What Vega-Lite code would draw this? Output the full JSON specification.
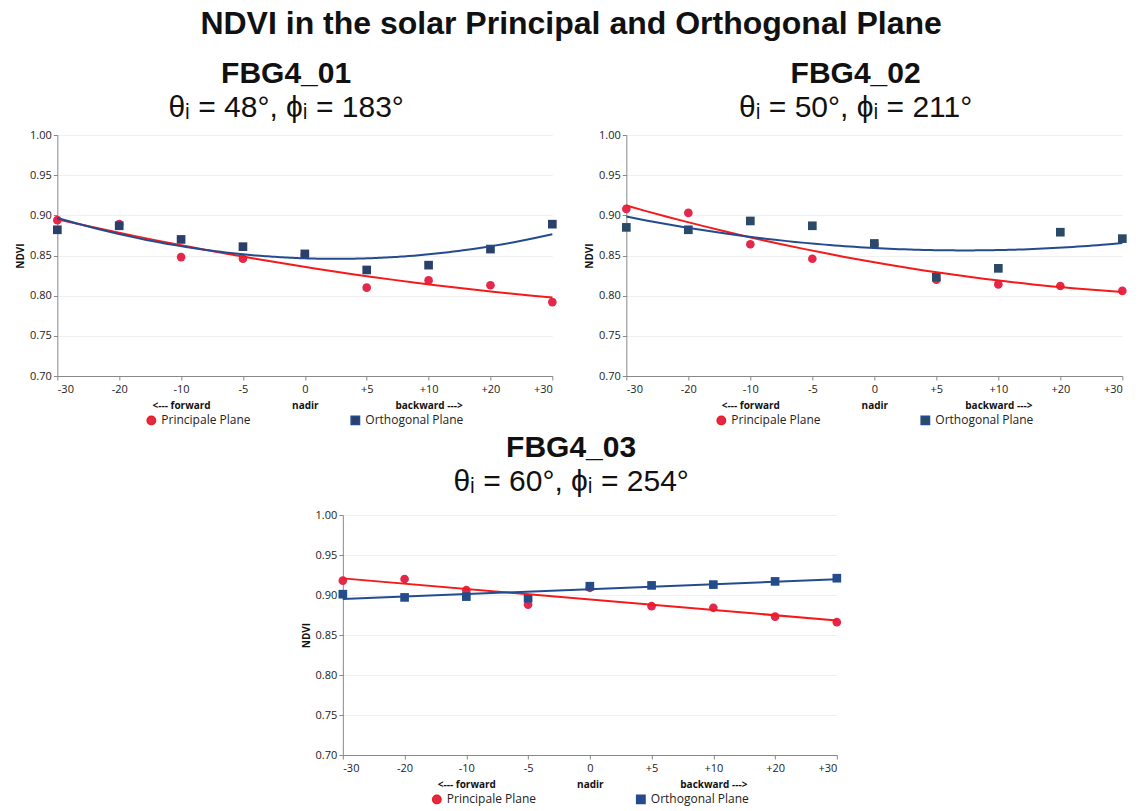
{
  "$schema": "https://vega.github.io/schema/vega-lite/v6.json",
  "background": "white",
  "padding": {"left": 15, "top": 8, "right": 5, "bottom": 0},
  "title": {"text": "NDVI in the solar Principal and Orthogonal Plane", "font": "Liberation Sans", "fontSize": 32, "fontWeight": "bold", "color": "#111", "anchor": "middle", "offset": 18},
  "config": {
    "view": {"stroke": null},
    "axis": {"labelFont": "Open Sans", "labelFontSize": 11, "labelColor": "#222", "domainColor": "#888", "tickColor": "#888", "titleFont": "Open Sans", "titleFontSize": 10, "titleFontWeight": "bold", "titleColor": "#111", "labelOverlap": false},
    "legend": {"labelFont": "Open Sans", "labelFontSize": 12, "labelColor": "#222", "layout": {"bottom": {"anchor": "middle", "bounds": "full"}}}
  },
  "datasets": {
    "p1": [
      {"idx": 0, "angle": "-30", "plane": "Principale Plane", "ndvi": 0.894},
      {"idx": 1, "angle": "-20", "plane": "Principale Plane", "ndvi": 0.889},
      {"idx": 2, "angle": "-10", "plane": "Principale Plane", "ndvi": 0.848},
      {"idx": 3, "angle": "-5", "plane": "Principale Plane", "ndvi": 0.846},
      {"idx": 4, "angle": "0", "plane": "Principale Plane", "ndvi": 0.851},
      {"idx": 5, "angle": "+5", "plane": "Principale Plane", "ndvi": 0.810},
      {"idx": 6, "angle": "+10", "plane": "Principale Plane", "ndvi": 0.819},
      {"idx": 7, "angle": "+20", "plane": "Principale Plane", "ndvi": 0.813},
      {"idx": 8, "angle": "+30", "plane": "Principale Plane", "ndvi": 0.792},
      {"idx": 0, "angle": "-30", "plane": "Orthogonal Plane", "ndvi": 0.882},
      {"idx": 1, "angle": "-20", "plane": "Orthogonal Plane", "ndvi": 0.887},
      {"idx": 2, "angle": "-10", "plane": "Orthogonal Plane", "ndvi": 0.870},
      {"idx": 3, "angle": "-5", "plane": "Orthogonal Plane", "ndvi": 0.861},
      {"idx": 4, "angle": "0", "plane": "Orthogonal Plane", "ndvi": 0.852},
      {"idx": 5, "angle": "+5", "plane": "Orthogonal Plane", "ndvi": 0.832},
      {"idx": 6, "angle": "+10", "plane": "Orthogonal Plane", "ndvi": 0.838},
      {"idx": 7, "angle": "+20", "plane": "Orthogonal Plane", "ndvi": 0.858},
      {"idx": 8, "angle": "+30", "plane": "Orthogonal Plane", "ndvi": 0.889}
    ],
    "p2": [
      {"idx": 0, "angle": "-30", "plane": "Principale Plane", "ndvi": 0.908},
      {"idx": 1, "angle": "-20", "plane": "Principale Plane", "ndvi": 0.903},
      {"idx": 2, "angle": "-10", "plane": "Principale Plane", "ndvi": 0.864},
      {"idx": 3, "angle": "-5", "plane": "Principale Plane", "ndvi": 0.846},
      {"idx": 4, "angle": "0", "plane": "Principale Plane", "ndvi": 0.864},
      {"idx": 5, "angle": "+5", "plane": "Principale Plane", "ndvi": 0.820},
      {"idx": 6, "angle": "+10", "plane": "Principale Plane", "ndvi": 0.814},
      {"idx": 7, "angle": "+20", "plane": "Principale Plane", "ndvi": 0.812},
      {"idx": 8, "angle": "+30", "plane": "Principale Plane", "ndvi": 0.806},
      {"idx": 0, "angle": "-30", "plane": "Orthogonal Plane", "ndvi": 0.885},
      {"idx": 1, "angle": "-20", "plane": "Orthogonal Plane", "ndvi": 0.882},
      {"idx": 2, "angle": "-10", "plane": "Orthogonal Plane", "ndvi": 0.893},
      {"idx": 3, "angle": "-5", "plane": "Orthogonal Plane", "ndvi": 0.887},
      {"idx": 4, "angle": "0", "plane": "Orthogonal Plane", "ndvi": 0.865},
      {"idx": 5, "angle": "+5", "plane": "Orthogonal Plane", "ndvi": 0.823},
      {"idx": 6, "angle": "+10", "plane": "Orthogonal Plane", "ndvi": 0.834},
      {"idx": 7, "angle": "+20", "plane": "Orthogonal Plane", "ndvi": 0.879},
      {"idx": 8, "angle": "+30", "plane": "Orthogonal Plane", "ndvi": 0.871}
    ],
    "p3": [
      {"idx": 0, "angle": "-30", "plane": "Principale Plane", "ndvi": 0.918},
      {"idx": 1, "angle": "-20", "plane": "Principale Plane", "ndvi": 0.920},
      {"idx": 2, "angle": "-10", "plane": "Principale Plane", "ndvi": 0.906},
      {"idx": 3, "angle": "-5", "plane": "Principale Plane", "ndvi": 0.888},
      {"idx": 4, "angle": "0", "plane": "Principale Plane", "ndvi": 0.909},
      {"idx": 5, "angle": "+5", "plane": "Principale Plane", "ndvi": 0.886},
      {"idx": 6, "angle": "+10", "plane": "Principale Plane", "ndvi": 0.884},
      {"idx": 7, "angle": "+20", "plane": "Principale Plane", "ndvi": 0.873},
      {"idx": 8, "angle": "+30", "plane": "Principale Plane", "ndvi": 0.866},
      {"idx": 0, "angle": "-30", "plane": "Orthogonal Plane", "ndvi": 0.901},
      {"idx": 1, "angle": "-20", "plane": "Orthogonal Plane", "ndvi": 0.897},
      {"idx": 2, "angle": "-10", "plane": "Orthogonal Plane", "ndvi": 0.898},
      {"idx": 3, "angle": "-5", "plane": "Orthogonal Plane", "ndvi": 0.896},
      {"idx": 4, "angle": "0", "plane": "Orthogonal Plane", "ndvi": 0.911},
      {"idx": 5, "angle": "+5", "plane": "Orthogonal Plane", "ndvi": 0.912},
      {"idx": 6, "angle": "+10", "plane": "Orthogonal Plane", "ndvi": 0.913},
      {"idx": 7, "angle": "+20", "plane": "Orthogonal Plane", "ndvi": 0.917},
      {"idx": 8, "angle": "+30", "plane": "Orthogonal Plane", "ndvi": 0.921}
    ]
  },
  "vconcat": [
    {
      "hconcat": [
        {
          "title": {"text": "FBG4_01", "subtitle": "θᵢ = 48°, ϕᵢ = 183°", "font": "Liberation Sans", "fontSize": 30, "fontWeight": "bold", "color": "#111", "subtitleFont": "Liberation Sans", "subtitleFontSize": 30, "subtitleColor": "#111", "subtitlePadding": 4, "anchor": "middle", "frame": "bounds", "offset": 6},
          "width": 495, "height": 241,
          "data": {"name": "p1"},
          "layer": [
            {
              "mark": {"type": "point", "filled": true, "size": 75, "opacity": 1},
              "encoding": {
                "x": {"field": "idx", "type": "quantitative", "scale": {"domain": [0, 8], "nice": false}, "axis": {"values": [0, 1, 2, 3, 4, 5, 6, 7, 8], "labelExpr": "['-30','-20','-10','-5','0','+5','+10','+20','+30'][datum.value]", "title": null, "grid": false, "tickSize": 4, "labelPadding": 3}},
                "y": {"field": "ndvi", "type": "quantitative", "scale": {"domain": [0.7, 1.0], "nice": false, "zero": false}, "axis": {"values": [0.7, 0.75, 0.8, 0.85, 0.9, 0.95, 1.0], "format": ".2f", "title": "NDVI", "titlePadding": 4, "grid": true, "gridColor": "#F0F0F0", "tickSize": 4, "labelOverlap": false}},
                "color": {"field": "plane", "type": "nominal", "scale": {"domain": ["Principale Plane", "Orthogonal Plane"], "range": ["#E3284C", "#2A3F6C"]}, "legend": {"orient": "bottom", "direction": "horizontal", "title": null, "columnPadding": 96, "offset": 4, "symbolSize": 70}},
                "shape": {"field": "plane", "type": "nominal", "scale": {"domain": ["Principale Plane", "Orthogonal Plane"], "range": ["circle", "square"]}}
              }
            },
            {
              "transform": [{"regression": "ndvi", "on": "idx", "groupby": ["plane"], "method": "poly", "order": 2, "extent": [0, 8]}],
              "mark": {"type": "line", "strokeWidth": 2},
              "encoding": {
                "x": {"field": "idx", "type": "quantitative", "axis": {"orient": "bottom", "values": [2, 4, 6], "labelExpr": "datum.value == 2 ? '<--- forward' : datum.value == 4 ? 'nadir' : 'backward --->'", "title": null, "grid": false, "ticks": false, "domain": false, "offset": 22, "labelFontWeight": "bold", "labelFontSize": 10, "labelColor": "#111", "labelPadding": 2}},
                "y": {"field": "ndvi", "type": "quantitative"},
                "stroke": {"field": "plane", "type": "nominal", "scale": {"domain": ["Principale Plane", "Orthogonal Plane"], "range": ["#F51A1A", "#244A8F"]}, "legend": null}
              }
            }
          ],
          "resolve": {"axis": {"x": "independent"}}
        },
        {
          "title": {"text": "FBG4_02", "subtitle": "θᵢ = 50°, ϕᵢ = 211°", "font": "Liberation Sans", "fontSize": 30, "fontWeight": "bold", "color": "#111", "subtitleFont": "Liberation Sans", "subtitleFontSize": 30, "subtitleColor": "#111", "subtitlePadding": 4, "anchor": "middle", "frame": "bounds", "offset": 6},
          "width": 496, "height": 241,
          "data": {"name": "p2"},
          "layer": [
            {
              "mark": {"type": "point", "filled": true, "size": 75, "opacity": 1},
              "encoding": {
                "x": {"field": "idx", "type": "quantitative", "scale": {"domain": [0, 8], "nice": false}, "axis": {"values": [0, 1, 2, 3, 4, 5, 6, 7, 8], "labelExpr": "['-30','-20','-10','-5','0','+5','+10','+20','+30'][datum.value]", "title": null, "grid": false, "tickSize": 4, "labelPadding": 3}},
                "y": {"field": "ndvi", "type": "quantitative", "scale": {"domain": [0.7, 1.0], "nice": false, "zero": false}, "axis": {"values": [0.7, 0.75, 0.8, 0.85, 0.9, 0.95, 1.0], "format": ".2f", "title": "NDVI", "titlePadding": 4, "grid": true, "gridColor": "#F0F0F0", "tickSize": 4, "labelOverlap": false}},
                "color": {"field": "plane", "type": "nominal", "scale": {"domain": ["Principale Plane", "Orthogonal Plane"], "range": ["#E3284C", "#2A4A68"]}, "legend": {"orient": "bottom", "direction": "horizontal", "title": null, "columnPadding": 96, "offset": 4, "symbolSize": 70}},
                "shape": {"field": "plane", "type": "nominal", "scale": {"domain": ["Principale Plane", "Orthogonal Plane"], "range": ["circle", "square"]}}
              }
            },
            {
              "transform": [{"regression": "ndvi", "on": "idx", "groupby": ["plane"], "method": "poly", "order": 2, "extent": [0, 8]}],
              "mark": {"type": "line", "strokeWidth": 2},
              "encoding": {
                "x": {"field": "idx", "type": "quantitative", "axis": {"orient": "bottom", "values": [2, 4, 6], "labelExpr": "datum.value == 2 ? '<--- forward' : datum.value == 4 ? 'nadir' : 'backward --->'", "title": null, "grid": false, "ticks": false, "domain": false, "offset": 22, "labelFontWeight": "bold", "labelFontSize": 10, "labelColor": "#111", "labelPadding": 2}},
                "y": {"field": "ndvi", "type": "quantitative"},
                "stroke": {"field": "plane", "type": "nominal", "scale": {"domain": ["Principale Plane", "Orthogonal Plane"], "range": ["#F51A1A", "#244A8F"]}, "legend": null}
              }
            }
          ],
          "resolve": {"axis": {"x": "independent"}}
        }
      ],
      "spacing": 27,
      "resolve": {"scale": {"color": "independent", "shape": "independent", "stroke": "independent"}}
    },
    {
      "title": {"text": "FBG4_03", "subtitle": "θᵢ = 60°, ϕᵢ = 254°", "font": "Liberation Sans", "fontSize": 30, "fontWeight": "bold", "color": "#111", "subtitleFont": "Liberation Sans", "subtitleFontSize": 30, "subtitleColor": "#111", "subtitlePadding": 4, "anchor": "middle", "frame": "bounds", "offset": 12},
      "width": 494, "height": 240,
      "data": {"name": "p3"},
      "layer": [
        {
          "mark": {"type": "point", "filled": true, "size": 75, "opacity": 1},
          "encoding": {
            "x": {"field": "idx", "type": "quantitative", "scale": {"domain": [0, 8], "nice": false}, "axis": {"values": [0, 1, 2, 3, 4, 5, 6, 7, 8], "labelExpr": "['-30','-20','-10','-5','0','+5','+10','+20','+30'][datum.value]", "title": null, "grid": false, "tickSize": 4, "labelPadding": 3}},
            "y": {"field": "ndvi", "type": "quantitative", "scale": {"domain": [0.7, 1.0], "nice": false, "zero": false}, "axis": {"values": [0.7, 0.75, 0.8, 0.85, 0.9, 0.95, 1.0], "format": ".2f", "title": "NDVI", "titlePadding": 4, "grid": true, "gridColor": "#F0F0F0", "tickSize": 4, "labelOverlap": false, "tickCount": 7}},
            "color": {"field": "plane", "type": "nominal", "scale": {"domain": ["Principale Plane", "Orthogonal Plane"], "range": ["#E3284C", "#244C8A"]}, "legend": {"orient": "bottom", "direction": "horizontal", "title": null, "columnPadding": 96, "offset": 4, "symbolSize": 70}},
            "shape": {"field": "plane", "type": "nominal", "scale": {"domain": ["Principale Plane", "Orthogonal Plane"], "range": ["circle", "square"]}}
          }
        },
        {
          "transform": [{"regression": "ndvi", "on": "idx", "groupby": ["plane"], "method": "linear", "extent": [0, 8]}],
          "mark": {"type": "line", "strokeWidth": 2},
          "encoding": {
            "x": {"field": "idx", "type": "quantitative", "axis": {"orient": "bottom", "values": [2, 4, 6], "labelExpr": "datum.value == 2 ? '<--- forward' : datum.value == 4 ? 'nadir' : 'backward --->'", "title": null, "grid": false, "ticks": false, "domain": false, "offset": 22, "labelFontWeight": "bold", "labelFontSize": 10, "labelColor": "#111", "labelPadding": 2}},
            "y": {"field": "ndvi", "type": "quantitative"},
            "stroke": {"field": "plane", "type": "nominal", "scale": {"domain": ["Principale Plane", "Orthogonal Plane"], "range": ["#F51A1A", "#244A8F"]}, "legend": null}
          }
        }
      ],
      "resolve": {"axis": {"x": "independent"}}
    }
  ],
  "spacing": 5,
  "center": true,
  "resolve": {"scale": {"color": "independent", "shape": "independent", "stroke": "independent"}}
}
